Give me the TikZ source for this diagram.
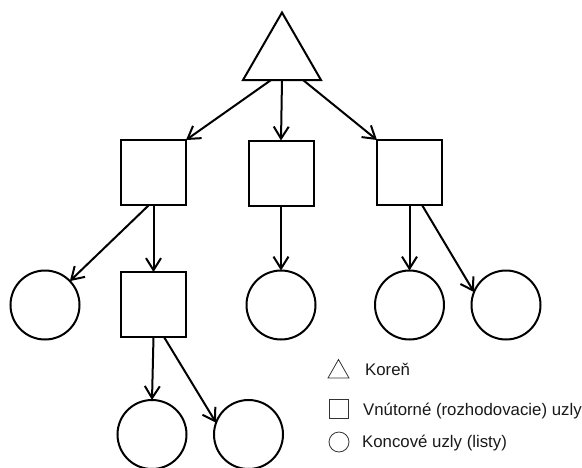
\documentclass[tikz,border=0pt]{standalone}
\usepackage{fontspec}
\setmainfont{Liberation Sans}
\usetikzlibrary{arrows.meta,shapes.geometric,calc}
\begin{document}
\begin{tikzpicture}[x=1pt,y=-1pt,
  sq/.style={draw,line width=2pt,minimum size=65pt,inner sep=0pt,outer sep=0pt},
  leaf/.style={draw,circle,line width=2pt,minimum size=69pt,inner sep=0pt,outer sep=0pt},
  edge/.style={line width=2pt,-{Straight Barb[length=12pt,width=15pt]}},
  legshape/.style={draw=black!80,line width=0.8pt},
  legtext/.style={anchor=base west,inner sep=0pt,font=\fontsize{16.8}{20}\selectfont,text=black!90}]
\useasboundingbox (0,0) rectangle (582,467);
\clip (0,0) rectangle (582,467);
% root
\node[draw,regular polygon,regular polygon sides=3,minimum size=90pt,inner sep=0pt,outer sep=0pt,line width=2pt] (T) at (282,57.5) {};
\coordinate (Ta) at ($(T.corner 2)!0.36!(T.corner 3)$);
\coordinate (Tc) at ($(T.corner 2)!0.77!(T.corner 3)$);
% inner nodes
\node[sq] (S1) at (153.5,172.5) {};
\node[sq] (S2) at (281,173) {};
\node[sq] (S3) at (409.5,172.5) {};
\node[sq] (S4) at (153.5,304.5) {};
% leaves
\node[leaf] (C1) at (45,305) {};
\node[leaf] (C2) at (281,305) {};
\node[leaf] (C3) at (409.5,305) {};
\node[leaf] (C4) at (506,305) {};
\node[leaf] (C5) at (152,434.5) {};
\node[leaf] (C6) at (248.5,434.5) {};
\coordinate (S1a) at ($(S1.south)+(-4.5,0)$);
\coordinate (S3b) at ($(S3.south)+(12.5,0)$);
\coordinate (S4b) at ($(S4.south)+(10.5,0)$);
% edges
\draw[edge] (Ta) -- (S1.north east);
\draw[edge] (T.south) -- (S2.north);
\draw[edge] (Tc) -- (S3.north west);
\draw[edge] (S1a) -- (C1);
\draw[edge] (S1.south) -- (S4.north);
\draw[edge] (S2.south) -- (C2.north);
\draw[edge] (S3.south) -- (C3.north);
\draw[edge] (S3b) -- (C4.158);
\draw[edge] (S4.south) -- (C5.north);
\draw[edge] (S4b) -- (C6.160);
% legend
\draw[legshape] (328,378) -- (349,378) -- (338.5,359.5) -- cycle;
\node[legshape,minimum size=19pt,inner sep=0pt] (LS) at (338.5,408.5) {};
\node[legshape,circle,minimum size=20pt,inner sep=0pt] (LC) at (339,442) {};
\node[legtext] (L1) at (365,375) {Koreň};
\node[legtext] (L2) at (363,415) {Vnútorné (rozhodovacie) uzly};
\node[legtext] (L3) at (362,447) {Koncové uzly (listy)};
\end{tikzpicture}
\end{document}
